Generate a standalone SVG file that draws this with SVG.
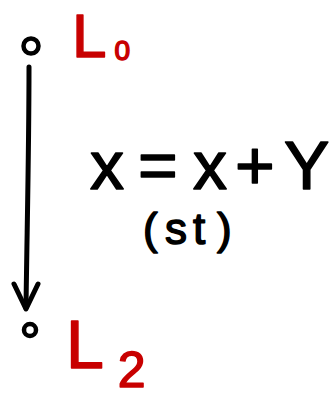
<svg xmlns="http://www.w3.org/2000/svg" width="330" height="398" viewBox="0 0 330 398">
<style>
.node{fill:#fff;stroke:#000;stroke-width:4.5}
.edge{fill:none;stroke:#000;stroke-width:5;stroke-linecap:round;stroke-linejoin:round}
.lbl{font-family:"Liberation Sans","DejaVu Sans",sans-serif;fill:#c80000;stroke:#c80000;stroke-width:1.5;stroke-linejoin:round}
.eq{font-family:"Liberation Sans","DejaVu Sans",sans-serif;fill:#000;stroke:#000;stroke-width:1.5;stroke-linejoin:round}
</style>
<rect width="330" height="398" fill="#fff"/>
<g id="connectors">
<path class="edge" d="M29,67 C29,150 27,230 26,308"/>
<path class="edge" d="M14,284 L26,309 L38,284"/>
</g>
<g id="L0">
<circle class="node" cx="31" cy="46" r="7.5"/>
<text class="lbl" x="72" y="57" font-size="62">L<tspan font-size="28" dx="8" dy="3">0</tspan></text>
</g>
<g id="L2">
<circle class="node" cx="30" cy="330" r="6"/>
<text class="lbl" x="66" y="368" font-size="68">L<tspan font-size="50" dx="14" dy="19">2</tspan></text>
</g>
<g id="statement">
<text class="eq" x="90 124 138 178 193 227 235 275 284" y="189" font-size="68">x = x + Y</text>
<text class="eq" x="143 165 193 217" y="244" font-size="44">(st)</text>
</g>
</svg>
